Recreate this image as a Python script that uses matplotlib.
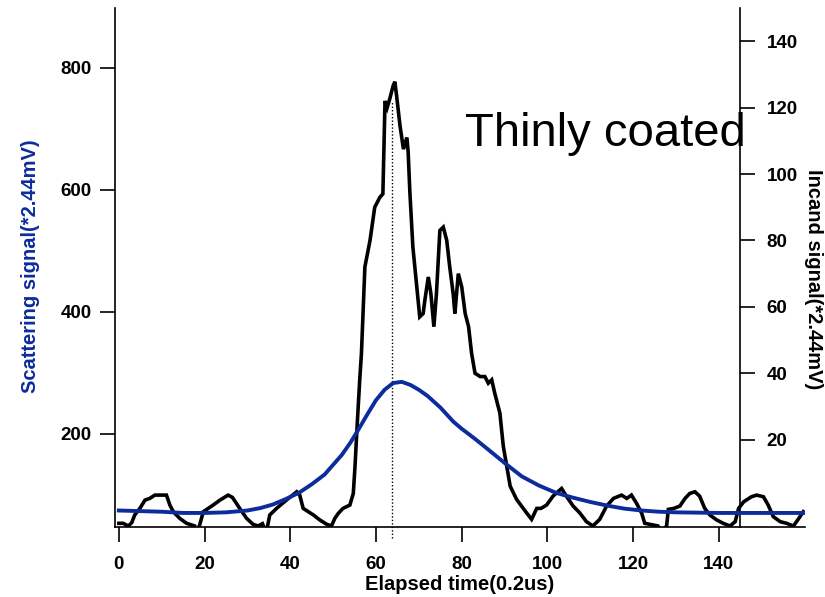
import numpy as np
import matplotlib.pyplot as plt

plt.rcParams['font.family'] = ['Liberation Sans Narrow', 'Liberation Sans', 'DejaVu Sans']

# Señal de dispersión (eje izquierdo)
t_scat = [0, 5, 10, 15, 20, 25, 30, 33, 36, 39, 42, 45, 48, 50, 52, 54, 56, 58, 60,
          62, 64, 66, 68, 70, 72, 75, 78, 80, 83, 86, 90, 94, 98, 102, 106, 110,
          114, 118, 122, 126, 130, 140, 150, 159.7]
scat = [74, 73, 72, 70, 70, 71, 74, 78, 84, 93, 103, 117, 133, 149, 165, 185, 208, 232, 255,
        272, 283, 285, 280, 272, 262, 243, 220, 208, 192, 175, 152, 130, 115, 103, 95, 88,
        82, 77, 74, 72, 71, 70, 70, 70]

# Señal de incandescencia (eje derecho)
t_inc = [0, 1, 2.2, 3, 3.7, 4.9, 6.1, 7.2, 8.4, 9.9, 11.1, 11.9, 12.7, 14.2, 15.8, 17.7,
         18.2, 18.9, 19.7, 20.5, 22, 23.6, 25.5, 26.5, 28.2, 29.8, 31.3, 32.5, 33.5, 34.4,
         35.2, 36.8, 39.1, 41.5, 42.2, 43, 44.2, 45.4, 46.9, 48.5, 49.6, 50.4, 51.2, 52.3,
         53.9, 54.7, 55.1, 55.5, 55.9, 56.2, 56.6, 57.4, 58.6, 59.7, 60.9, 61.6, 62.1, 62.6,
         63.2, 64, 64.4, 64.8, 65.6, 66.4, 67.2, 67.5, 67.9, 68.6, 69.5, 70.2, 71, 71.4,
         72.2, 72.8, 73.5, 74.1, 74.9, 75.7, 76.5, 77.2, 78, 78.4, 79.2, 80, 80.8, 81.6,
         82.3, 83.1, 84.3, 85.4, 86.2, 87, 87.7, 88.9, 89.7, 90.5, 91.3, 92.8, 95.1, 96.3,
         97.5, 98.5, 99.8, 101.3, 103.3, 104.4, 106, 107.5, 109.1, 110.6, 112.2, 113.8,
         115.4, 117.3, 118.5, 119.6, 120.8, 122, 122.7, 124.7, 125.8, 126.5, 127.8, 128.2,
         129.5, 130.9, 132.1, 133.2, 134.4, 135.5, 136.7, 137.9, 139.5, 141, 142.6, 143.8,
         144.6, 145.8, 147.6, 148.8, 150.4, 151.5, 152.7, 154.3, 155.8, 157.4, 158.5, 159.7]
inc = [-5.2, -5.2, -6, -5, -2.7, -0.7, 1.8, 2.3, 3.3, 3.3, 3.3, 0.3, -1.7, -3.7, -5.2, -6,
       -8, -5.5, -1.7, -1.0, 0.3, 1.8, 3.3, 2.6, -0.7, -3.7, -5.5, -6, -5.3, -8,
       -2.7, -0.7, 1.8, 4.3, 3.3, -0.7, -1.7, -2.7, -4.2, -5.5, -6, -3.7, -2.2, -0.7,
       0.3, 3.8, 12, 22, 31, 38, 46, 72, 80, 90, 93, 94, 122, 120,
       122.6, 126.6, 127.8, 123.6, 114.5, 107.5, 111, 106.6, 94.5, 78, 66, 57, 58, 62,
       69, 64, 54, 64, 83, 84, 80, 72, 64, 58, 70, 66, 58, 54,
       46, 40, 39, 39, 37, 38, 34, 28, 18, 12, 6, 2, -2, -4,
       -0.7, -0.7, 0.3, 3, 5.3, 3, 0, -2, -4.7, -6, -4, 0,
       2.3, 3.3, 2.3, 3.3, 0.8, -2.2, -5.2, -5.7, -6, -8, -6, -1,
       -0.7, 0, 2.3, 3.8, 4.3, 3, -0.7, -2.7, -4.2, -5.2, -6, -4.7,
       -0.7, 1.3, 2.8, 3.3, 2.8, 0.3, -3.2, -4.7, -5.2, -6, -4, -1.7]

t_pico = 63.7

azul = '#0c2c9c'

fig = plt.figure(figsize=(8.25, 5.97), dpi=100)
ax = fig.add_axes([0.1394, 0.1173, 0.8364, 0.8693])
ax2 = ax.twinx()

ax2.plot(t_inc, inc, color='black', lw=2.6, solid_joinstyle='miter')
ax2.plot([t_pico, t_pico], [-9.7, 122], color='black', lw=1, ls=(0, (1, 1.5)), clip_on=False)
ax.plot(t_scat, scat, color=azul, lw=2.8)

ax.set_zorder(ax2.get_zorder() + 1)
ax.patch.set_visible(False)

ax.set_xlim(-0.9, 160.1)
ax.set_ylim(47, 898)
ax2.set_ylim(-6.3, 150)

ax.set_xticks(np.arange(0, 141, 20))
ax.set_yticks([200, 400, 600, 800])
ax2.set_yticks(np.arange(20, 141, 20))

for s in ['top', 'right']:
    ax.spines[s].set_visible(False)
for s in ['top', 'left', 'bottom']:
    ax2.spines[s].set_visible(False)
ax2.spines['right'].set_position(('data', 145))
for a in (ax, ax2):
    for s in a.spines.values():
        s.set_linewidth(1.2)

ax.tick_params(axis='y', direction='out', length=11, width=1.2, pad=6, labelsize=13.5)
ax.tick_params(axis='x', direction='out', length=11, width=1.2, pad=10, labelsize=13.5)
ax2.tick_params(axis='y', direction='out', length=11, width=1.2, pad=8, labelsize=13.5)
for lab in ax.get_xticklabels() + ax.get_yticklabels() + ax2.get_yticklabels():
    lab.set_fontweight('bold')

ax.set_xlabel('Elapsed time(0.2us)', fontsize=14.5, fontweight='bold', labelpad=1.5)
ax.set_ylabel('Scattering signal(*2.44mV)', fontsize=14.5, fontweight='bold', color=azul)
ax.yaxis.set_label_coords(-0.109, 0.503)
ax2.set_ylabel('Incand signal(*2.44mV)', fontsize=14.5, fontweight='bold',
               rotation=-90, va='center')
ax2.yaxis.set_label_coords(1.012, 0.478)

ax2.text(80.7, 108.5, 'Thinly coated', fontsize=34, family=['Liberation Sans', 'DejaVu Sans'],
         va='baseline', ha='left')

plt.savefig('out.png', dpi=100)
